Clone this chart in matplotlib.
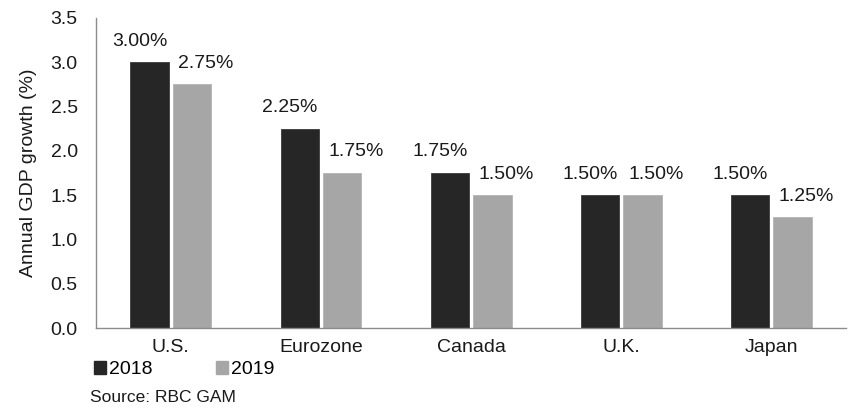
import numpy as np
import matplotlib.pyplot as plt
from matplotlib.patches import Patch

plt.rcParams['font.family'] = ['Liberation Sans', 'DejaVu Sans']

# GDP growth forecasts by region
regions = ['U.S.', 'Eurozone', 'Canada', 'U.K.', 'Japan']
growth_2018 = [3.00, 2.25, 1.75, 1.50, 1.50]
growth_2019 = [2.75, 1.75, 1.50, 1.50, 1.25]
years = ['2018', '2019']

dark = '#262626'
light = '#a6a6a6'
fs = 14

fig = plt.figure(figsize=(8.48, 4.07), dpi=100)
ax = fig.add_axes([0.113, 0.194, 0.885, 0.762])

x = np.arange(len(regions))
w = 0.255
b1 = ax.bar(x - 0.142, growth_2018, width=w, color=dark, edgecolor='#3a3a3a', linewidth=0.6)
b2 = ax.bar(x + 0.142, growth_2019, width=w, color=light, edgecolor='#b4b4b4', linewidth=0.6)

# value labels, offset sideways like the spreadsheet original
for rect, v in zip(b1, growth_2018):
    ax.annotate(f'{v:.2f}%', (rect.get_x() + rect.get_width() / 2, v),
                xytext=(-7, 9), textcoords='offset points',
                ha='center', va='bottom', fontsize=fs, color='#1a1a1a')
for rect, v in zip(b2, growth_2019):
    ax.annotate(f'{v:.2f}%', (rect.get_x() + rect.get_width() / 2, v),
                xytext=(10, 9), textcoords='offset points',
                ha='center', va='bottom', fontsize=fs, color='#1a1a1a')

ax.set_xlim(-0.5, 4.5)
ax.set_ylim(0, 3.5)
ax.set_yticks(np.arange(0, 3.51, 0.5))
ax.set_yticklabels([f'{t:.1f}' for t in np.arange(0, 3.51, 0.5)])
ax.set_xticks(x)
ax.set_xticklabels(regions)
ax.tick_params(length=0, labelsize=fs, colors='#1a1a1a')
ax.tick_params(axis='y', pad=13)
ax.tick_params(axis='x', pad=8)

for s in ['top', 'right']:
    ax.spines[s].set_visible(False)
for s in ['left', 'bottom']:
    ax.spines[s].set_color('#8c8c8c')
    ax.spines[s].set_linewidth(1.0)

ax.set_ylabel('Annual GDP growth (%)', fontsize=fs, color='#1a1a1a', labelpad=10)

handles = [Patch(color=dark), Patch(color=light)]
fig.legend(handles, years, loc='upper left', bbox_to_anchor=(0.111, 0.112),
           ncol=2, frameon=False, fontsize=fs, handlelength=0.6, handleheight=0.6,
           handletextpad=0.15, columnspacing=3.3, borderpad=0, borderaxespad=0)

fig.text(0.106, 0.012, 'Source: RBC GAM', fontsize=12.5, color='#1a1a1a')

fig.savefig('out.png', dpi=100)
